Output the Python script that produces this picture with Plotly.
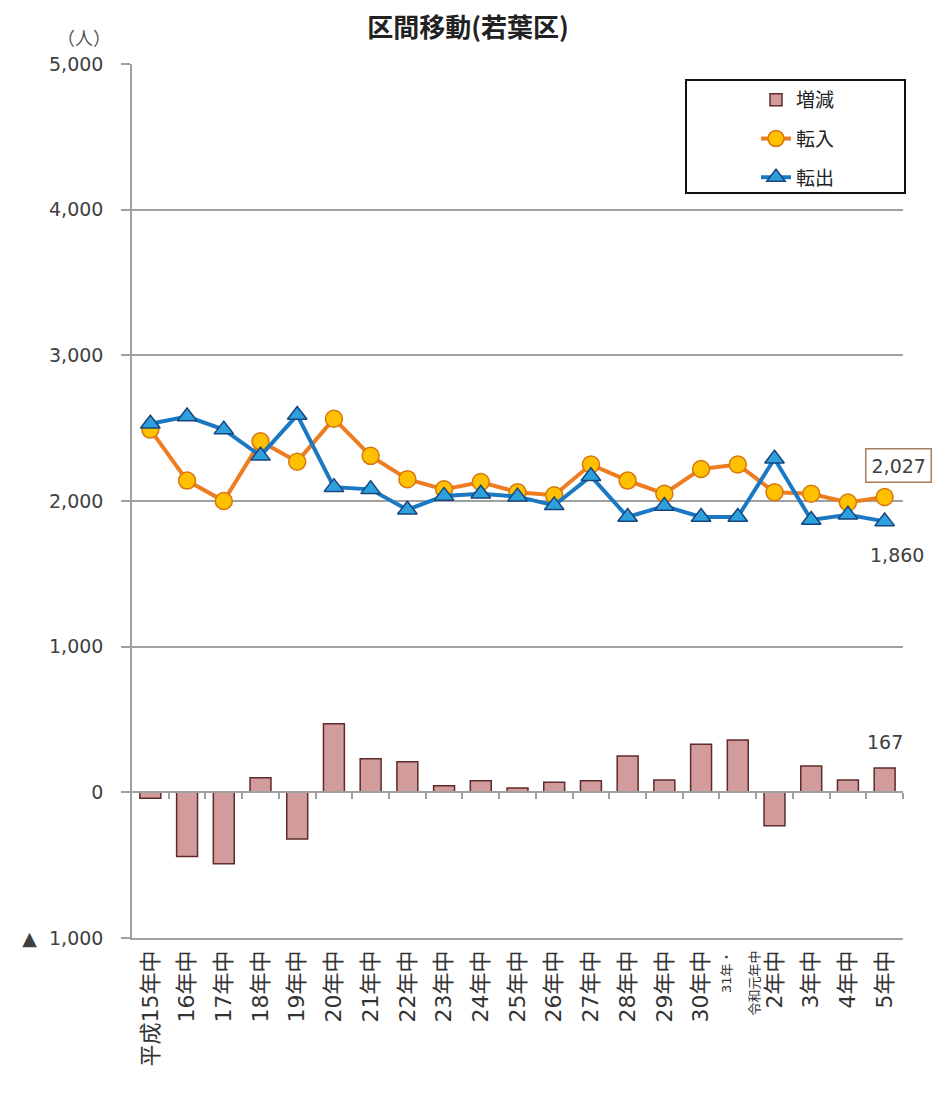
import plotly.graph_objects as go

# ---- data ----
categories = ["平成15年中", "16年中", "17年中", "18年中", "19年中", "20年中", "21年中",
              "22年中", "23年中", "24年中", "25年中", "26年中", "27年中", "28年中",
              "29年中", "30年中", "31年・<br>令和元年中", "2年中", "3年中", "4年中", "5年中"]
tennyu = [2490, 2140, 2000, 2410, 2270, 2565, 2310, 2150, 2080, 2130, 2060,
          2040, 2250, 2140, 2050, 2220, 2250, 2060, 2050, 1990, 2027]
tenshutsu = [2530, 2580, 2490, 2310, 2590, 2095, 2080, 1940, 2035, 2050, 2030,
             1970, 2170, 1890, 1965, 1890, 1890, 2290, 1870, 1905, 1860]
zougen = [-40, -440, -490, 100, -320, 470, 230, 210, 45, 80, 30,
          70, 80, 250, 85, 330, 360, -230, 180, 85, 167]
y_tickvals = [-1000, 0, 1000, 2000, 3000, 4000, 5000]
y_ticktext = ["<span style='font-size:19px'>▲</span>  1,000", "0", "1,000", "2,000", "3,000", "4,000", "5,000"]

idx = list(range(len(categories)))
tick_text = []
for c in categories:
    if "<br>" in c:
        tick_text.append("<span style='font-size:13px'>" + c + "</span>")
    else:
        tick_text.append(c)

FONT = "DejaVu Sans, Noto Sans CJK JP, sans-serif"
GRAY = "#A0A0A0"

fig = go.Figure()

fig.add_trace(go.Bar(
    x=idx, y=zougen, name="増減", xaxis="x2", yaxis="y",
    marker=dict(color="#D39C9C", line=dict(color="#5E2A2A", width=1.5)),
    width=0.57, legendgroup="a",
))
fig.add_trace(go.Scatter(
    x=idx, y=tennyu, name="転入", mode="lines+markers",
    line=dict(color="#EE7D22", width=4),
    marker=dict(symbol="circle", size=17, color="#FFC000",
                line=dict(color="#D9750F", width=1.5)),
    legendgroup="b",
))
fig.add_trace(go.Scatter(
    x=idx, y=tenshutsu, name="転出", mode="lines+markers",
    line=dict(color="#1B79C4", width=4),
    marker=dict(symbol="triangle-up", size=17, color="#2FA0DE",
                line=dict(color="#16457E", width=1.5)),
    legendgroup="c",
))

n = len(categories)
fig.update_layout(
    width=933, height=1095,
    margin=dict(l=132, r=30, t=64, b=157),
    paper_bgcolor="white", plot_bgcolor="white",
    font=dict(family=FONT, color="#404040", size=19),
    showlegend=True,
    legend=dict(x=(756 - 132) / 771, xanchor="left", y=(938 - 81) / 874, yanchor="top",
                bgcolor="rgba(0,0,0,0)", borderwidth=0, tracegroupgap=11,
                font=dict(size=19, color="#222222", family=FONT),
                traceorder="grouped"),
    title=dict(text="<b>区間移動(若葉区)</b>", x=468 / 933, xref="container", xanchor="center",
               y=1 - 28 / 1095, yref="container", yanchor="middle",
               font=dict(size=26, color="#222222", family="Noto Sans CJK JP, sans-serif")),
    xaxis=dict(range=[-0.5, n - 0.5], tickmode="array", tickvals=idx, ticktext=tick_text,
               tickangle=-90, ticks="", showline=True, linecolor=GRAY, linewidth=1.5,
               showgrid=False, zeroline=False, mirror=False,
               tickfont=dict(size=22, color="#333333", family=FONT),
               ticklabelstandoff=2),
    xaxis2=dict(range=[-0.5, n - 0.5], overlaying="x", anchor="free",
                position=(938 - 792) / 874,
                tickmode="array", tickvals=[i + 0.5 for i in idx], showticklabels=False,
                ticks="outside", ticklen=6, tickcolor=GRAY, tickwidth=1.5,
                showline=True, linecolor=GRAY, linewidth=1.5, showgrid=False, zeroline=False),
    yaxis=dict(range=[-1000, 5000], tickmode="array", tickvals=y_tickvals, ticktext=y_ticktext,
               showgrid=True, gridcolor=GRAY, gridwidth=1.5, zeroline=False,
               showline=True, linecolor=GRAY, linewidth=1.5,
               ticks="outside", ticklen=9, tickcolor=GRAY, tickwidth=1.5,
               tickfont=dict(size=19, color="#404040", family=FONT),
               ticklabelstandoff=14),
)

# legend box
fig.add_shape(type="rect", xref="paper", yref="paper",
              x0=(686 - 132) / 771, x1=(905 - 132) / 771,
              y0=(938 - 193) / 874, y1=(938 - 80) / 874,
              line=dict(color="#111111", width=2), fillcolor="rgba(0,0,0,0)", layer="above")

# unit label
fig.add_annotation(text="（人）", xref="paper", yref="paper",
                   x=(55 - 132) / 771, y=(938 - 22) / 874, showarrow=False,
                   font=dict(size=18, color="#555555", family="Noto Sans CJK JP, sans-serif"))

# data labels
last = n - 1
fig.add_annotation(x=last, y=tennyu[last], xref="x", yref="y", text=f"{tennyu[last]:,}",
                   showarrow=False, xshift=14, yshift=32,
                   bordercolor="#A57F60", borderwidth=1.5, borderpad=5, bgcolor="white",
                   font=dict(size=19, color="#404040", family=FONT))
fig.add_annotation(x=last, y=tenshutsu[last], xref="x", yref="y", text=f"{tenshutsu[last]:,}",
                   showarrow=False, xshift=12, yshift=-34,
                   font=dict(size=19, color="#404040", family=FONT))
fig.add_annotation(x=last, y=zougen[last], xref="x", yref="y", text=f"{zougen[last]:,}",
                   showarrow=False, xshift=0, yshift=26,
                   font=dict(size=19, color="#404040", family=FONT))

fig.write_html("out.html", post_script="document.body.style.margin='0';",
               config={"displayModeBar": False})
